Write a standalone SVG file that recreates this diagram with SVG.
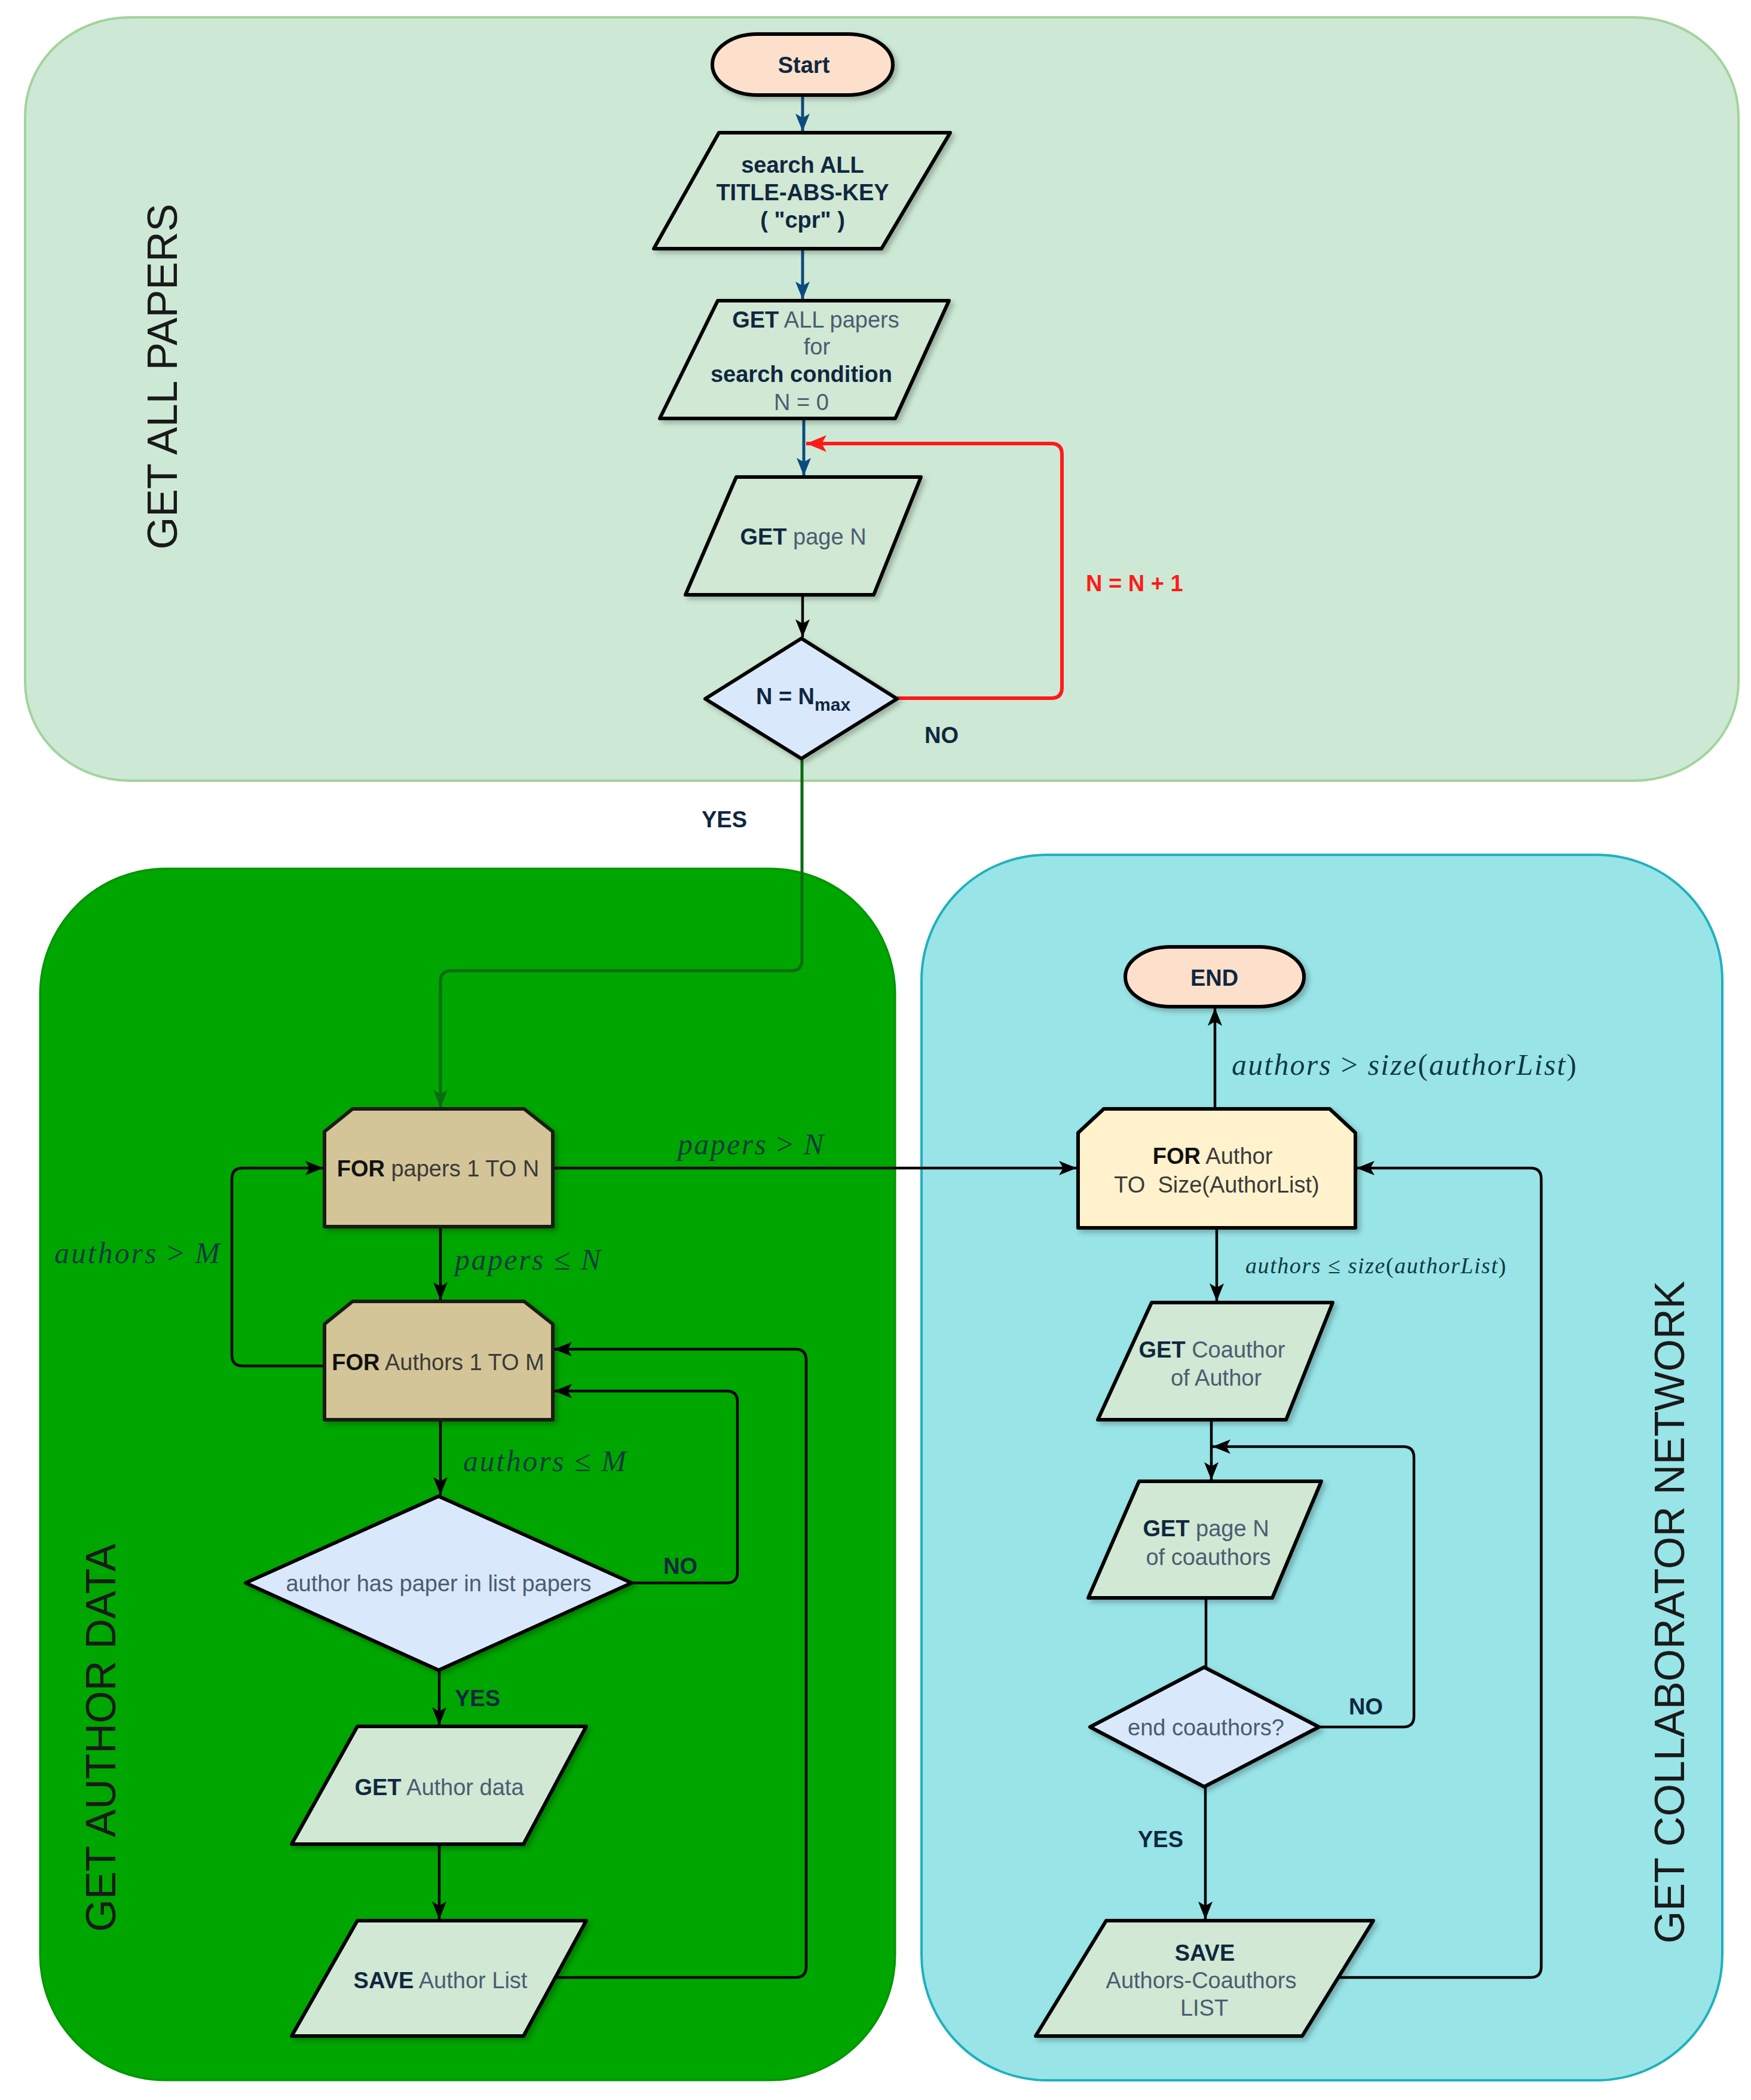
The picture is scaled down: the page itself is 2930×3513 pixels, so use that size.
<svg xmlns="http://www.w3.org/2000/svg" width="2930" height="3513" viewBox="0 0 2930 3513">
<style>
text{font-family:"Liberation Sans",Arial,sans-serif}
.t{font-size:38px;fill:#4a5d70;text-anchor:middle}
.tk{font-size:38px;fill:#3a3a3a;text-anchor:middle}
.b{font-weight:bold;fill:#10273f}
.bk{font-weight:bold;fill:#111}
.lbl{font-size:38px;font-weight:bold;fill:#10273f}
.red{font-size:38px;font-weight:bold;fill:#ff1a1a}
.m{font-family:"Liberation Serif","Times New Roman",serif;font-style:italic;font-size:50px;fill:#0f3a40}
.op{font-style:normal}
.title{font-size:70px;fill:#1a1a1a;text-anchor:middle}
.para{fill:#d0e8d4;stroke:#000;stroke-width:6;stroke-linejoin:round}
.dia{fill:#dae8fc;stroke:#000;stroke-width:6;stroke-linejoin:round}
.loop{fill:#d3c597;stroke:#1e1e14;stroke-width:6;stroke-linejoin:round}
.term{fill:#fce0cb;stroke:#000;stroke-width:6}
.c{fill:none;stroke:#000;stroke-width:4.5}
.cb{fill:none;stroke:#0d4a80;stroke-width:5}
.cr{fill:none;stroke:#ff1a1a;stroke-width:6}
.cg{fill:none;stroke:#0b6b12;stroke-width:5}
</style>
<defs>
<filter id="sh" x="-10%" y="-10%" width="130%" height="130%"><feDropShadow dx="5" dy="5" stdDeviation="4" flood-color="#000" flood-opacity="0.25"/></filter>
<marker id="ak" markerUnits="userSpaceOnUse" markerWidth="30" markerHeight="24" refX="30" refY="12" orient="auto"><path d="M0,0 L30,12 L0,24 L7,12 Z" fill="#000"/></marker>
<marker id="ab" markerUnits="userSpaceOnUse" markerWidth="30" markerHeight="24" refX="30" refY="12" orient="auto"><path d="M0,0 L30,12 L0,24 L7,12 Z" fill="#0d4a80"/></marker>
<marker id="ar" markerUnits="userSpaceOnUse" markerWidth="34" markerHeight="28" refX="34" refY="14" orient="auto"><path d="M0,0 L34,14 L0,28 L8,14 Z" fill="#ff1a1a"/></marker>
<marker id="ag" markerUnits="userSpaceOnUse" markerWidth="30" markerHeight="24" refX="30" refY="12" orient="auto"><path d="M0,0 L30,12 L0,24 L7,12 Z" fill="#0b6b12"/></marker>
</defs>
<rect width="2930" height="3513" fill="#fff"/>

<g id="panel-papers">
<rect x="42" y="29" width="2867" height="1277" rx="175" ry="165" fill="#cde9d5" stroke="#a3d39c" stroke-width="4"/>
<text class="title" transform="translate(296,630) rotate(-90)">GET ALL PAPERS</text>
</g>
<g id="panel-author">
<rect x="67" y="1453" width="1431" height="2027" rx="210" ry="210" fill="#00a600" stroke="#009400" stroke-width="3"/>
<text class="title" transform="translate(193,2907) rotate(-90)">GET AUTHOR DATA</text>
</g>
<g id="panel-collab">
<rect x="1542" y="1430" width="1340" height="2050" rx="210" ry="210" fill="#98e4e7" stroke="#1fb0bd" stroke-width="4"/>
<text class="title" transform="translate(2818,2697) rotate(-90)">GET COLLABORATOR NETWORK</text>
</g>

<g id="connectors">
<path class="cb" d="M1343,159 V220" marker-end="url(#ab)"/>
<path class="cb" d="M1343,416 V501" marker-end="url(#ab)"/>
<path class="cb" d="M1345,700 V796" marker-end="url(#ab)"/>
<path class="c" d="M1343,995 V1066" marker-end="url(#ak)"/>
<path class="cr" d="M1501,1168 H1759 Q1777,1168 1777,1150 V760 Q1777,742 1759,742 H1349" marker-end="url(#ar)"/>
<path class="cg" d="M1342,1269 V1606 Q1342,1624 1324,1624 H755 Q737,1624 737,1642 V1853" marker-end="url(#ag)"/>
<path class="c" d="M737,2052 V2175" marker-end="url(#ak)"/>
<path class="c" d="M543,2285 H406 Q388,2285 388,2267 V1972 Q388,1954 406,1954 H541" marker-end="url(#ak)"/>
<path class="c" d="M737,2375 V2501" marker-end="url(#ak)"/>
<path class="c" d="M1057,2648 H1216 Q1234,2648 1234,2630 V2345 Q1234,2327 1216,2327 H927" marker-end="url(#ak)"/>
<path class="c" d="M735,2794 V2886" marker-end="url(#ak)"/>
<path class="c" d="M735,3085 V3211" marker-end="url(#ak)"/>
<path class="c" d="M929,3308 H1331 Q1349,3308 1349,3290 V2275 Q1349,2257 1331,2257 H927" marker-end="url(#ak)"/>
<path class="c" d="M925,1954 H1802" marker-end="url(#ak)"/>
<path class="c" d="M2033,1855 V1686" marker-end="url(#ak)"/>
<path class="c" d="M2036,2054 V2177" marker-end="url(#ak)"/>
<path class="c" d="M2027,2375 V2476" marker-end="url(#ak)"/>
<path class="c" d="M2207,2889 H2348 Q2366,2889 2366,2871 V2438 Q2366,2420 2348,2420 H2029" marker-end="url(#ak)"/>
<path class="c" d="M2018,2673 V2789"/>
<path class="c" d="M2017,2989 V3211" marker-end="url(#ak)"/>
<path class="c" d="M2240,3308 H2561 Q2579,3308 2579,3290 V1972 Q2579,1954 2561,1954 H2270" marker-end="url(#ak)"/>

<text class="red" x="1817" y="989">N = N + 1</text>
<text class="lbl" x="1547" y="1243">NO</text>
<text class="lbl" x="1174" y="1384">YES</text>
<text class="lbl" x="1110" y="2633">NO</text>
<text class="lbl" x="761" y="2854">YES</text>
<text class="lbl" x="2257" y="2868">NO</text>
<text class="lbl" x="1904" y="3090">YES</text>
<text class="m" x="91" y="2113" textLength="277" lengthAdjust="spacing">authors <tspan class="op">&gt;</tspan> M</text>
<text class="m" x="761" y="2124" textLength="244" lengthAdjust="spacing">papers <tspan class="op">≤</tspan> N</text>
<text class="m" x="775" y="2461" textLength="273" lengthAdjust="spacing">authors <tspan class="op">≤</tspan> M</text>
<text class="m" x="1134" y="1931" textLength="244" lengthAdjust="spacing">papers <tspan class="op">&gt;</tspan> N</text>
<text class="m" x="2061" y="1798" textLength="577" lengthAdjust="spacing">authors <tspan class="op">&gt;</tspan> size<tspan class="op">(</tspan>authorList<tspan class="op">)</tspan></text>
<text class="m" x="2084" y="2130" style="font-size:38px" textLength="436" lengthAdjust="spacing">authors <tspan class="op">≤</tspan> size<tspan class="op">(</tspan>authorList<tspan class="op">)</tspan></text>
</g>

<g id="start">
<rect class="term" x="1192" y="57" width="302" height="102" rx="75" ry="51" filter="url(#sh)"/>
<text class="t b" x="1345" y="122">Start</text>
</g>
<g id="search">
<polygon class="para" points="1203,222 1590,222 1475,416 1094,416" filter="url(#sh)"/>
<text class="t b" x="1343" y="289">search ALL</text>
<text class="t b" x="1343" y="335">TITLE-ABS-KEY</text>
<text class="t b" x="1343" y="381">( "cpr" )</text>
</g>
<g id="get-all-papers">
<polygon class="para" points="1201,503 1588,503 1498,700 1104,700" filter="url(#sh)"/>
<text class="t" x="1365" y="548"><tspan class="b">GET</tspan> ALL papers</text>
<text class="t" x="1367" y="593">for</text>
<text class="t b" x="1341" y="639">search condition</text>
<text class="t" x="1341" y="686">N = 0</text>
</g>
<g id="get-page">
<polygon class="para" points="1232,798 1541,798 1462,995 1147,995" filter="url(#sh)"/>
<text class="t" x="1344" y="911"><tspan class="b">GET</tspan> page N</text>
</g>
<g id="n-max">
<polygon class="dia" points="1341,1068 1501,1169 1341,1269 1180,1169" filter="url(#sh)"/>
<text class="t b" x="1344" y="1178">N = N<tspan style="font-size:30px" dy="11">max</tspan></text>
</g>
<g id="for-papers">
<path class="loop" d="M543,1893 L590,1855 L877,1855 L925,1893 L925,2052 L543,2052 Z" filter="url(#sh)"/>
<text class="tk" x="733" y="1968"><tspan class="bk">FOR</tspan> papers 1 TO N</text>
</g>
<g id="for-authors">
<path class="loop" d="M543,2215 L590,2177 L877,2177 L925,2215 L925,2375 L543,2375 Z" filter="url(#sh)"/>
<text class="tk" x="733" y="2292"><tspan class="bk">FOR</tspan> Authors 1 TO M</text>
</g>
<g id="has-paper">
<polygon class="dia" points="734,2503 1057,2648 734,2794 411,2648" filter="url(#sh)"/>
<text class="t" x="734" y="2662">author has paper in list papers</text>
</g>
<g id="get-author-data">
<polygon class="para" points="598,2888 981,2888 876,3085 488,3085" filter="url(#sh)"/>
<text class="t" x="735" y="3003"><tspan class="b">GET</tspan> Author data</text>
</g>
<g id="save-author-list">
<polygon class="para" points="598,3213 981,3213 876,3406 488,3406" filter="url(#sh)"/>
<text class="t" x="737" y="3326"><tspan class="b">SAVE</tspan> Author List</text>
</g>
<g id="end">
<rect class="term" x="1883" y="1584" width="299" height="100" rx="75" ry="50" filter="url(#sh)"/>
<text class="t b" x="2032" y="1649">END</text>
</g>
<g id="for-author">
<path d="M1804,1895 L1847,1855 L2225,1855 L2268,1895 L2268,2054 L1804,2054 Z" fill="#fff2cc" stroke="#000" stroke-width="6" stroke-linejoin="round" filter="url(#sh)"/>
<text class="tk" x="2029" y="1947"><tspan class="bk">FOR</tspan> Author</text>
<text class="tk" x="2036" y="1995" xml:space="preserve">TO  Size(AuthorList)</text>
</g>
<g id="get-coauthor">
<polygon class="para" points="1927,2179 2230,2179 2152,2375 1837,2375" filter="url(#sh)"/>
<text class="t" x="2028" y="2271"><tspan class="b">GET</tspan> Coauthor</text>
<text class="t" x="2035" y="2318">of Author</text>
</g>
<g id="get-page-coauthors">
<polygon class="para" points="1906,2478 2211,2478 2129,2673 1821,2673" filter="url(#sh)"/>
<text class="t" x="2018" y="2570"><tspan class="b">GET</tspan> page N</text>
<text class="t" x="2022" y="2618">of coauthors</text>
</g>
<g id="end-coauthors">
<polygon class="dia" points="2015,2789 2207,2889 2015,2989 1824,2889" filter="url(#sh)"/>
<text class="t" x="2018" y="2903">end coauthors?</text>
</g>
<g id="save-coauthors">
<polygon class="para" points="1851,3213 2298,3213 2179,3406 1733,3406" filter="url(#sh)"/>
<text class="t b" x="2016" y="3280">SAVE</text>
<text class="t" x="2010" y="3326">Authors-Coauthors</text>
<text class="t" x="2015" y="3372">LIST</text>
</g>
</svg>
